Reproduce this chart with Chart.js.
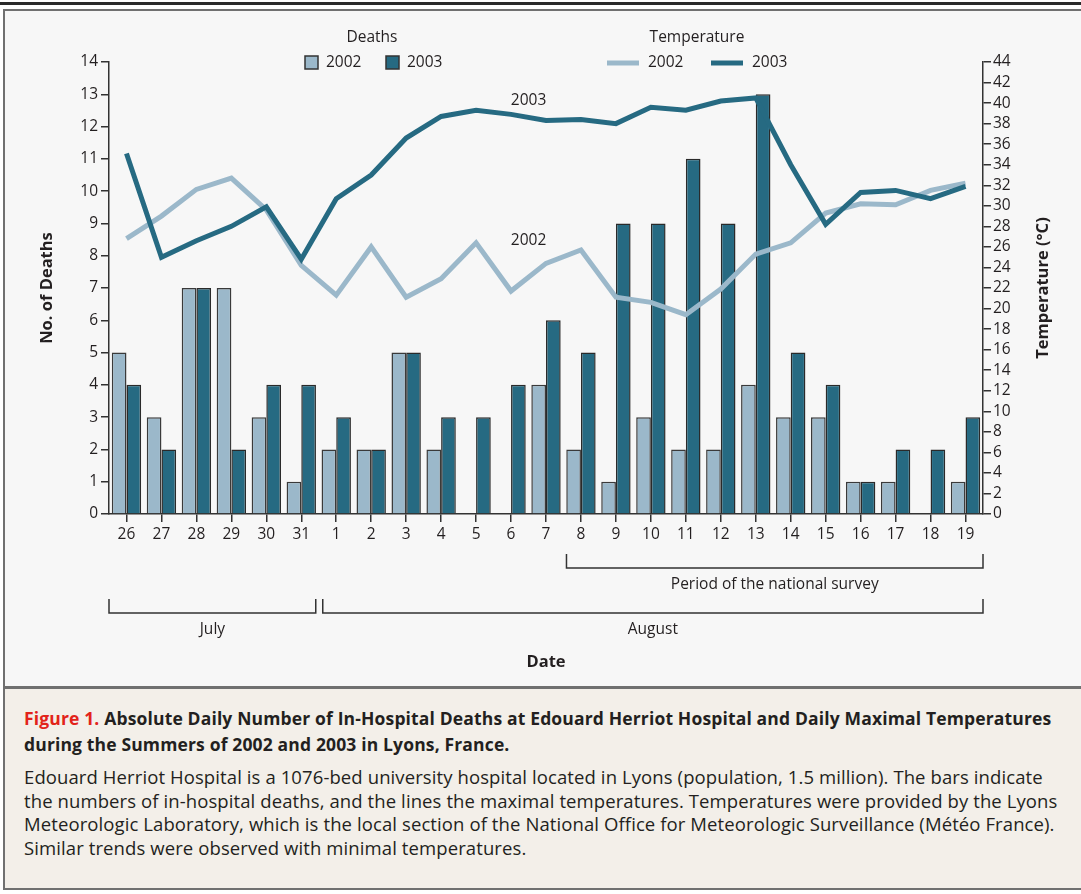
<!DOCTYPE html>
<html lang="en">
<head>
<meta charset="UTF-8" />
<title>In-Hospital Deaths and Temperatures, Lyons</title>
<script src="https://cdn.jsdelivr.net/npm/chart.js"></script>
<style>
  body { margin: 0; background: #fff; font-family: "Open Sans", Lato, sans-serif; color: #231f20; }
  .page { position: relative; width: 1081px; height: 894px; overflow: hidden; }
  .rule { position: absolute; left: 0; top: 2px; width: 1081px; height: 3px; background: #2a2a2a; }
  .figure { position: absolute; left: 3px; top: 9px; width: 1100px; height: 675px; border: 2px solid #707070; border-bottom-width: 3px; background: #f7f7f7; }
  .caption { position: absolute; left: 3px; top: 689px; width: 1100px; height: 199px; border: 2px solid #707070; border-top: none; background: #f3efe9; }
  .caption p { margin: 0; white-space: nowrap; }
  .caption .ttl { position: absolute; left: 19px; top: 16px; font-size: 17.5px; font-weight: bold; line-height: 26px; letter-spacing: 0.15px; }
  .caption .fig { color: #e2231a; }
  .caption .txt { position: absolute; left: 19px; top: 76px; font-size: 18.5px; line-height: 23.5px; letter-spacing: 0.1px; }
  #chart { position: absolute; left: 0; top: 0; }
</style>
</head>
<body>
<div class="page">
  <div class="rule"></div>
  <div class="figure"></div>
  <canvas id="chart" width="1081" height="688"></canvas>
  <div class="caption">
    <p class="ttl"><span class="fig">Figure 1.</span> Absolute Daily Number of In-Hospital Deaths at Edouard Herriot Hospital and Daily Maximal Temperatures<br>during the Summers of 2002 and 2003 in Lyons, France.</p>
    <p class="txt">Edouard Herriot Hospital is a 1076-bed university hospital located in Lyons (population, 1.5 million). The bars indicate<br>the numbers of in-hospital deaths, and the lines the maximal temperatures. Temperatures were provided by the Lyons<br>Meteorologic Laboratory, which is the local section of the National Office for Meteorologic Surveillance (Météo France).<br>Similar trends were observed with minimal temperatures.</p>
  </div>
</div>
<script>
  // days from July 26 to August 19
  const days = ["26", "27", "28", "29", "30", "31", "1", "2", "3", "4", "5", "6", "7",
    "8", "9", "10", "11", "12", "13", "14", "15", "16", "17", "18", "19"];
  const deaths2002 = [5, 3, 7, 7, 3, 1, 2, 2, 5, 2, null, null, 4,
    2, 1, 3, 2, 2, 4, 3, 3, 1, 1, null, 1];
  const deaths2003 = [4, 2, 7, 2, 4, 4, 3, 2, 5, 3, 3, 4, 6,
    5, 9, 9, 11, 9, 13, 5, 4, 1, 2, 2, 3];
  const temp2002 = [26.8, 29.0, 31.6, 32.7, 29.6, 24.2, 21.3, 26.0, 21.1, 22.9, 26.4, 21.7, 24.4,
    25.7, 21.1, 20.6, 19.4, 21.9, 25.3, 26.4, 29.3, 30.2, 30.1, 31.5, 32.2];
  const temp2003 = [35.1, 25.0, 26.6, 28.0, 29.9, 24.8, 30.7, 33.0, 36.6, 38.7, 39.3, 38.9, 38.3,
    38.4, 38.0, 39.6, 39.3, 40.2, 40.5, 34.0, 28.2, 31.3, 31.5, 30.7, 31.9];

  const light = "#9bb8ca";
  const dark = "#266a82";
  const ink = "#231f20";
  const font = "'Open Sans', Lato, sans-serif";

  // legend, brackets, titles and inline labels
  const extras = {
    id: "extras",
    afterDraw(chart) {
      const c = chart.ctx;
      const x = chart.scales.x;
      const yT = chart.scales.yT;
      const area = chart.chartArea;
      c.save();
      c.fillStyle = ink;
      c.textBaseline = "middle";
      c.font = "15.5px " + font;

      // legend
      c.textAlign = "center";
      c.fillText("Deaths", 372, 38);
      c.fillText("Temperature", 697, 38);
      c.textAlign = "left";
      [[305, light, "2002"], [386, dark, "2003"]].forEach(([lx, col, t]) => {
        c.fillStyle = col;
        c.fillRect(lx, 56, 13, 13);
        c.strokeStyle = "#333";
        c.lineWidth = 1.5;
        c.strokeRect(lx, 56, 13, 13);
        c.fillStyle = ink;
        c.fillText(t, lx + 21, 63);
      });
      [[607, light, "2002"], [711, dark, "2003"]].forEach(([lx, col, t]) => {
        c.strokeStyle = col;
        c.lineWidth = 5;
        c.beginPath();
        c.moveTo(lx, 63);
        c.lineTo(lx + 32, 63);
        c.stroke();
        c.fillStyle = ink;
        c.fillText(t, lx + 41, 63);
      });

      // inline line labels
      c.textAlign = "center";
      const mid = x.getPixelForValue(11.5);
      c.fillText("2003", mid, yT.getPixelForValue(40.2));
      c.fillText("2002", mid, yT.getPixelForValue(26.6));

      // brackets
      c.strokeStyle = "#333";
      c.lineWidth = 1.5;
      const bracket = (x0, x1, top, bot) => {
        c.beginPath();
        c.moveTo(x0, top);
        c.lineTo(x0, bot);
        c.lineTo(x1, bot);
        c.lineTo(x1, top);
        c.stroke();
      };
      const surveyLeft = (x.getPixelForValue(12) + x.getPixelForValue(13)) / 2 + 3;
      bracket(surveyLeft, area.right, 554, 568);
      c.fillText("Period of the national survey", (surveyLeft + area.right) / 2, 585);
      const monthSplit = (x.getPixelForValue(5) + x.getPixelForValue(6)) / 2;
      bracket(area.left, monthSplit - 3, 599, 613);
      bracket(monthSplit + 4, area.right, 599, 613);
      c.fillText("July", (area.left + monthSplit - 3) / 2, 630);
      c.fillText("August", (monthSplit + 4 + area.right) / 2, 630);

      // axis titles
      c.font = "bold 16.5px " + font;
      c.fillText("Date", (area.left + area.right) / 2, 662);
      const midY = (area.top + area.bottom) / 2;
      c.translate(47, midY);
      c.rotate(-Math.PI / 2);
      c.fillText("No. of Deaths", 0, 0);
      c.rotate(Math.PI / 2);
      c.translate(1043 - 47, 0);
      c.rotate(-Math.PI / 2);
      c.fillText("Temperature (°C)", 0, 0);
      c.restore();
    }
  };

  const axisGrid = { drawOnChartArea: false, tickLength: 8, color: "#333", lineWidth: 1.5 };
  const axisBorder = { color: "#333", width: 1.5 };
  const tickFont = { family: font, size: 15.5 };

  new Chart(document.getElementById("chart"), {
    type: "bar",
    data: {
      labels: days,
      datasets: [
        { type: "line", label: "Temperature 2002", data: temp2002, yAxisID: "yT",
          borderColor: light, borderWidth: 5, pointRadius: 0, tension: 0, order: 1,
          borderJoinStyle: "miter", borderCapStyle: "butt" },
        { type: "line", label: "Temperature 2003", data: temp2003, yAxisID: "yT",
          borderColor: dark, borderWidth: 5, pointRadius: 0, tension: 0, order: 0,
          borderJoinStyle: "miter", borderCapStyle: "butt" },
        { label: "Deaths 2002", data: deaths2002, yAxisID: "y", backgroundColor: light,
          borderColor: "#3a3a3a", borderWidth: 1.5, order: 2,
          categoryPercentage: 0.84, barPercentage: 1 },
        { label: "Deaths 2003", data: deaths2003, yAxisID: "y", backgroundColor: dark,
          borderColor: "#2a2a2a", borderWidth: 1.5, order: 2,
          categoryPercentage: 0.84, barPercentage: 1 }
      ]
    },
    options: {
      responsive: false,
      animation: false,
      layout: { padding: { top: 62, left: 0, right: 0, bottom: 0 } },
      plugins: { legend: { display: false }, tooltip: { enabled: false } },
      scales: {
        x: {
          offset: true,
          grid: { ...axisGrid, offset: false },
          border: axisBorder,
          ticks: { color: ink, font: tickFont, padding: 3, maxRotation: 0, autoSkip: false },
          afterFit: (s) => { s.height = 174; }
        },
        y: {
          position: "left",
          min: 0, max: 14,
          grid: axisGrid,
          border: axisBorder,
          ticks: { stepSize: 1, color: ink, font: tickFont, padding: 3, autoSkip: false },
          afterFit: (s) => { s.width = 109; }
        },
        yT: {
          position: "right",
          min: 0, max: 44,
          grid: axisGrid,
          border: axisBorder,
          ticks: { stepSize: 2, color: ink, font: tickFont, padding: 2, autoSkip: false },
          afterFit: (s) => { s.width = 98; }
        }
      }
    },
    plugins: [extras]
  });
</script>
</body>
</html>
